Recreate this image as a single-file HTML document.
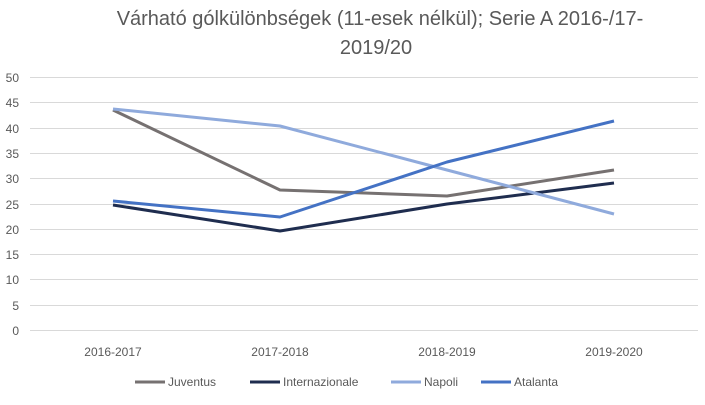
<!DOCTYPE html>
<html><head><meta charset="utf-8"><style>
body{margin:0;background:#fff;}
svg text{font-family:"Liberation Sans",sans-serif;}
</style></head><body>
<svg width="705" height="400" viewBox="0 0 705 400" xmlns="http://www.w3.org/2000/svg">
<rect width="705" height="400" fill="#fff"/>
<text x="380" y="25" text-anchor="middle" font-size="20" fill="#595959">Várható gólkülönbségek (11-esek nélkül); Serie A 2016-/17-</text>
<text x="376" y="54" text-anchor="middle" font-size="20" fill="#595959">2019/20</text>
<g stroke="#d9d9d9" stroke-width="1">
<line x1="30" x2="698" y1="77.5" y2="77.5"/><line x1="30" x2="698" y1="102.5" y2="102.5"/>
<line x1="30" x2="698" y1="128.5" y2="128.5"/><line x1="30" x2="698" y1="153.5" y2="153.5"/>
<line x1="30" x2="698" y1="178.5" y2="178.5"/><line x1="30" x2="698" y1="204.5" y2="204.5"/>
<line x1="30" x2="698" y1="229.5" y2="229.5"/><line x1="30" x2="698" y1="254.5" y2="254.5"/>
<line x1="30" x2="698" y1="279.5" y2="279.5"/><line x1="30" x2="698" y1="305.5" y2="305.5"/>
<line x1="30" x2="698" y1="330.5" y2="330.5"/>
</g>
<g font-size="12" fill="#595959" text-anchor="end">
<text x="19" y="82">50</text><text x="19" y="107">45</text><text x="19" y="133">40</text>
<text x="19" y="158">35</text><text x="19" y="183">30</text><text x="19" y="209">25</text>
<text x="19" y="234">20</text><text x="19" y="259">15</text><text x="19" y="284">10</text>
<text x="19" y="310">5</text><text x="19" y="335">0</text>
</g>
<g font-size="12" fill="#595959" text-anchor="middle">
<text x="113" y="356">2016-2017</text><text x="280" y="356">2017-2018</text>
<text x="447" y="356">2018-2019</text><text x="614" y="356">2019-2020</text>
</g>
<g fill="none" stroke-width="3" stroke-linejoin="round">
<polyline stroke="#767171" points="113,110 280,190 447,196 614,170"/>
<polyline stroke="#1f2d4f" points="113,205 280,231 447,204 614,183"/>
<polyline stroke="#8faadc" points="113,109 280,126 447,170 614,214"/>
<polyline stroke="#4472c4" points="113,201 280,217 447,162 614,121"/>
</g>
<g font-size="12" fill="#595959">
<line x1="135" x2="165" y1="382" y2="382" stroke="#767171" stroke-width="3"/><text x="168" y="386">Juventus</text>
<line x1="250" x2="280" y1="382" y2="382" stroke="#1f2d4f" stroke-width="3"/><text x="283" y="386">Internazionale</text>
<line x1="391" x2="421" y1="382" y2="382" stroke="#8faadc" stroke-width="3"/><text x="424" y="386">Napoli</text>
<line x1="481" x2="511" y1="382" y2="382" stroke="#4472c4" stroke-width="3"/><text x="514" y="386">Atalanta</text>
</g>
</svg>
</body></html>
